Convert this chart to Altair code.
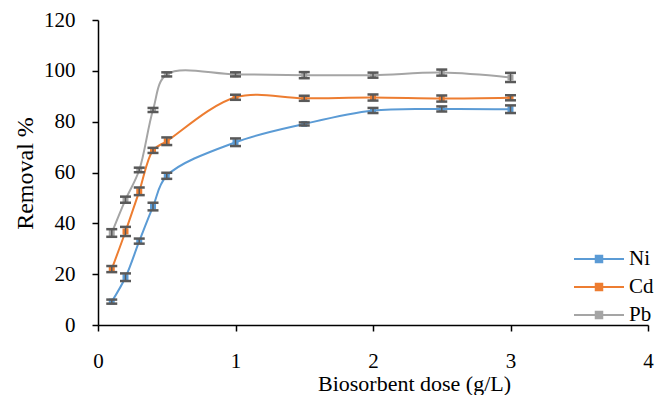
import altair as alt
import pandas as pd

dose = [0.1, 0.2, 0.3, 0.4, 0.5, 1, 1.5, 2, 2.5, 3]
ni = [9.2, 18.8, 33.0, 46.6, 58.7, 71.9, 79.1, 84.4, 85.0, 84.9]
cd = [22.0, 36.8, 52.6, 68.7, 72.3, 89.6, 89.2, 89.5, 89.1, 89.4]
pb = [36.2, 49.3, 61.0, 84.6, 98.6, 98.6, 98.3, 98.3, 99.3, 97.4]
ni_err = [0.8, 1.5, 1.0, 1.5, 1.2, 1.5, 0.6, 1.0, 1.0, 1.5]
cd_err = [1.2, 1.8, 1.5, 1.0, 1.5, 1.0, 1.0, 1.2, 1.2, 1.0]
pb_err = [1.5, 1.2, 0.9, 0.8, 0.8, 0.8, 1.2, 1.0, 1.2, 1.8]
series = ["Ni", "Cd", "Pb"]
colors = ["#5B9BD5", "#ED7D31", "#A5A5A5"]

rows = []
for name, vals, errs in zip(series, [ni, cd, pb], [ni_err, cd_err, pb_err]):
    for d, v, e in zip(dose, vals, errs):
        rows.append({"dose": d, "removal": v, "lo": v - e, "hi": v + e, "metal": name})
df = pd.DataFrame(rows)

FONT = "Liberation Serif"
xscale = alt.Scale(domain=[0, 4], nice=False)
yscale = alt.Scale(domain=[0, 120], nice=False)
color = alt.Color(
    "metal:N",
    sort=series,
    scale=alt.Scale(domain=series, range=colors),
    legend=alt.Legend(
        title=None,
        orient="none",
        legendX=475,
        legendY=225,
        symbolType="M-1,0L1,0M-0.13,-0.13L0.13,-0.13L0.13,0.13L-0.13,0.13Z",
        symbolSize=2500,
        symbolStrokeWidth=2,
        labelFont=FONT,
        labelFontSize=21,
        labelColor="#000000",
        labelOffset=4,
        rowPadding=0,
        clipHeight=28,
    ),
)

base = alt.Chart(df)

line = base.mark_line(interpolate="catmull-rom", strokeWidth=2).encode(
    x=alt.X("dose:Q", scale=xscale,
            axis=alt.Axis(title="Biosorbent dose (g/L)", values=[0, 1, 2, 3, 4], format="d",
                          grid=False, labelFlush=False, labelPadding=19,
                          titleX=316, titleY=58, titleBaseline="middle", titleAnchor="middle",
                          titleFontSize=22, titleFontWeight="normal")),
    y=alt.Y("removal:Q", scale=yscale,
            axis=alt.Axis(title="Removal %", values=[0, 20, 40, 60, 80, 100, 120],
                          grid=False, labelFlush=False, labelPadding=17,
                          titleX=-73, titleY=153, titleBaseline="middle", titleAnchor="middle",
                          titleFontSize=24, titleFontWeight="normal")),
    color=color,
)

pts = base.mark_square(size=36, opacity=1, filled=True).encode(
    x=alt.X("dose:Q", scale=xscale),
    y=alt.Y("removal:Q", scale=yscale),
    color=alt.Color("metal:N", sort=series, scale=alt.Scale(domain=series, range=colors), legend=None),
)

rule = base.mark_rule(color="#595959", strokeWidth=1.5).encode(
    x=alt.X("dose:Q", scale=xscale),
    y=alt.Y("lo:Q", scale=yscale),
    y2="hi:Q",
)
cap_lo = base.mark_tick(color="#595959", size=11, thickness=2.5, orient="horizontal", opacity=1).encode(
    x=alt.X("dose:Q", scale=xscale),
    y=alt.Y("lo:Q", scale=yscale),
)
cap_hi = base.mark_tick(color="#595959", size=11, thickness=2.5, orient="horizontal", opacity=1).encode(
    x=alt.X("dose:Q", scale=xscale),
    y=alt.Y("hi:Q", scale=yscale),
)

chart = (
    alt.layer(line, pts, rule, cap_lo, cap_hi)
    .properties(
        width=550,
        height=305,
        autosize=alt.AutoSizeParams(type="none"),
        padding={"left": 90, "top": 12, "right": 10, "bottom": 70},
    )
    .configure_view(stroke=None)
    .configure_axis(
        labelFont=FONT,
        titleFont=FONT,
        labelFontSize=21,
        labelColor="#000000",
        titleColor="#000000",
        domainColor="#000000",
        tickColor="#000000",
        domainWidth=1.5,
        tickWidth=1.5,
        tickSize=6,
    )
)

chart.save("out.html", embed_options={"renderer": "svg", "actions": False})
